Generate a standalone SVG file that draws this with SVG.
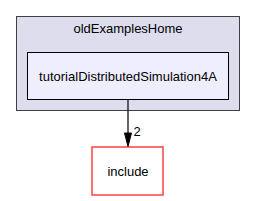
<svg xmlns="http://www.w3.org/2000/svg" width="256" height="201" viewBox="0 0 256 201">
<style>
text{font-family:"Liberation Sans",Arial,sans-serif;font-size:13px;fill:#000;text-anchor:middle}
</style>
<defs>
<marker id="ah" markerWidth="8" markerHeight="14" refX="7" refY="3.5" orient="auto" markerUnits="userSpaceOnUse" viewBox="0 0 14 7">
<path d="M0,0 L14,3.5 L0,7 Z" fill="#000"/>
</marker>
</defs>
<rect width="256" height="201" fill="#fff"/>
<g id="oldExamplesHome">
<rect x="16.5" y="16.5" width="223" height="94" fill="#ddddee" stroke="#404040"/>
<text x="128" y="33">oldExamplesHome</text>
</g>
<g id="tutorialDistributedSimulation4A">
<rect x="27.5" y="52.5" width="201" height="47" fill="#eeeeff" stroke="#000"/>
<text x="128" y="81">tutorialDistributedSimulation4A</text>
</g>
<g id="include">
<rect x="92" y="147" width="71" height="48" fill="#fff" stroke="#ff4040" stroke-width="1.5"/>
<text x="128" y="176">include</text>
</g>
<g id="connectors">
<path d="M128,100 L128,134" stroke="#000" stroke-width="1.2" fill="none"/>
<path d="M124.5,133 L131.5,133 L128,146.5 Z" fill="#000" stroke="#000"/>
<text x="137" y="136">2</text>
</g>
</svg>
